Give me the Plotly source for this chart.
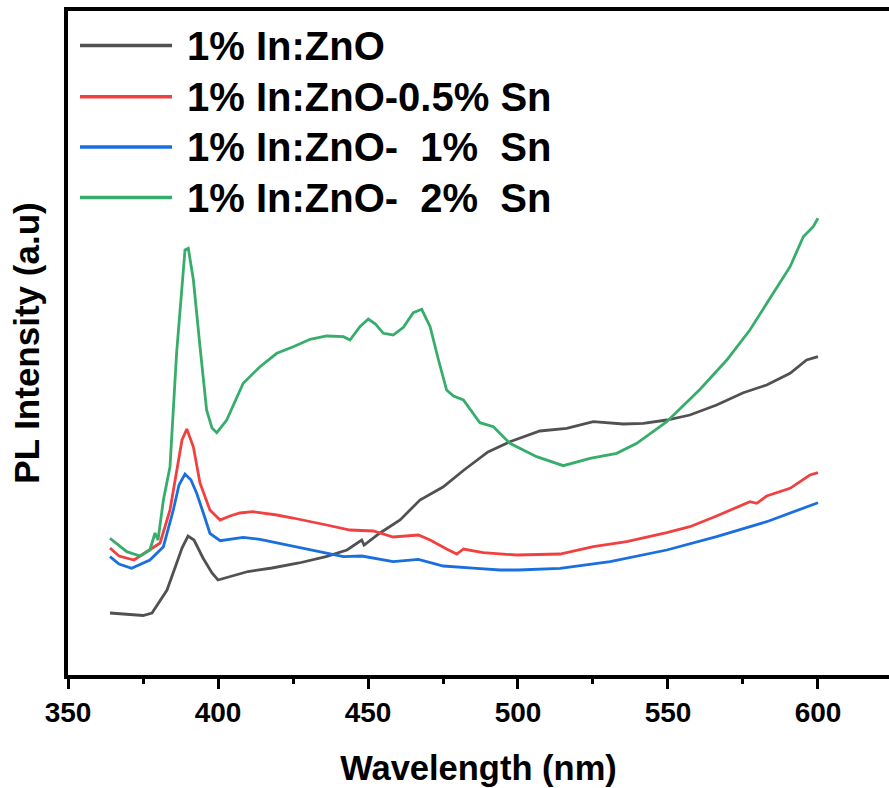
import plotly.graph_objects as go

# ---- data ----
series_names = ["1% In:ZnO", "1% In:ZnO-0.5% Sn", "1% In:ZnO-  1%  Sn", "1% In:ZnO-  2%  Sn"]
series_colors = ["#515151", "#F14040", "#1A6FDF", "#37AD6B"]

wl_in = [364, 370, 375, 378, 380, 383, 386, 388, 390, 392, 395, 398, 400, 405, 410, 418, 427, 436, 443, 447.9,
         448.7, 454, 460.7, 467.3, 475, 482, 490, 497.3, 507.3, 516.2, 525.1, 535.1, 541.8, 549.6, 557.3, 566.2,
         575.1, 582.9, 590.7, 596.2, 600]
pl_in = [62, 61, 59.5, 62, 71, 85, 110, 127, 139, 135, 117, 102, 95, 99, 103.5, 107, 112, 118.3, 125, 135,
         130, 142, 155, 175, 188, 205, 223, 233.3, 244, 246.7, 253.3, 251, 251.7, 255, 260, 270,
         282.3, 290, 301.7, 315, 318.3]

wl_sn05 = [364, 367, 372, 377, 380.7, 384, 386.2, 388, 389.6, 391.8, 394, 397.3, 400.7, 404, 407.3, 411.7, 419.6,
           425, 436.2, 444, 451.8, 458.4, 466.8, 470.7, 476.2, 479.6, 481.8, 488.4, 499.6, 514, 525.1, 536.2,
           549.6, 557.3, 566.2, 577.3, 579.6, 582.9, 590.7, 597.3, 600]
pl_sn05 = [127, 119, 115, 125, 132, 165, 205, 235, 246, 228, 192, 165, 155, 159, 162, 163.3, 160,
           157, 150, 145, 144, 138, 140, 135, 126, 121, 126, 122.3, 120, 121, 128.3, 133.3,
           142.3, 148.3, 159, 173.3, 171.7, 179, 186.7, 200, 202.3]

wl_sn1 = [364, 367, 371.2, 377.3, 381.8, 385.1, 387, 389, 391, 392.9, 395, 397.3, 400.7, 404, 408.4, 414, 425.1,
          436.2, 441.8, 447.9, 458.4, 466.8, 475.1, 486.2, 494, 500, 514, 530.7, 549.6, 566.2, 582.9, 600]
pl_sn1 = [118.3, 111, 106.7, 115, 128.3, 165, 190, 201, 195, 181.7, 163, 141.7, 134.3, 136, 137.7, 135.7, 129,
          121.7, 118.3, 119, 113.3, 115.7, 109, 106.7, 105, 105, 106.7, 113.3, 125, 138.3, 153.3, 172.3]

wl_sn2 = [364, 369.6, 374, 377.3, 379, 380, 381.8, 384, 386.2, 388, 389, 390.1, 391.8, 394, 396.2, 398, 399.6,
          402.9, 408.4, 414, 419.6, 425.1, 430.7, 436.2, 441.8, 444, 447.3, 450.1, 452.5, 455.1, 458.4, 461.8,
          465.1, 467.9, 470.7, 473.5, 476.2, 478.5, 481.8, 487.3, 491.8, 497.3, 506.2, 515.1, 524, 532.9, 539.6,
          549.6, 560.7, 569.6, 577.3, 584, 590.7, 595.1, 598.4, 600]
pl_sn2 = [136.7, 123.3, 119, 125, 142, 135, 175, 208.3, 322, 390, 425, 426.7, 395, 328.3, 265, 247, 242.3,
          255, 291.7, 308.3, 321.7, 328.3, 335.7, 339, 338.3, 335, 348.3, 356, 351, 341.7, 340, 347.7,
          362.3, 365.7, 348.3, 315, 285, 279, 275, 252.3, 248.3, 231.7, 218.3, 209.3, 216.7, 221.7, 231.7,
          253.3, 285.7, 315, 345, 376.7, 408.3, 438.3, 448.3, 456.7]

x_ticks = [350, 400, 450, 500, 550, 600]
x_tick_labels = ["350", "400", "450", "500", "550", "600"]

all_x = [wl_in, wl_sn05, wl_sn1, wl_sn2]
all_y = [pl_in, pl_sn05, pl_sn1, pl_sn2]

FONT = "Liberation Sans, Arial, sans-serif"

fig = go.Figure()
for name, color, xs, ys in zip(series_names, series_colors, all_x, all_y):
    fig.add_trace(go.Scatter(x=xs, y=ys, mode="lines", name=name,
                             line=dict(color=color, width=2.8), showlegend=False))

# manual legend (long line samples like the original)
leg_y = [0.948, 0.871, 0.795, 0.719]
shapes = []
annotations = []
for name, color, yy in zip(series_names, series_colors, leg_y):
    shapes.append(dict(type="line", xref="paper", yref="paper", x0=0.0146, x1=0.1267, y0=yy, y1=yy,
                       line=dict(color=color, width=3.5)))
    annotations.append(dict(xref="paper", yref="paper", x=0.1425, y=yy, xanchor="left", yanchor="middle",
                            text=name.replace("  ", "&nbsp;&nbsp;"), showarrow=False,
                            font=dict(family=FONT, size=40, color="black", weight="bold")))

fig.update_layout(
    width=889, height=788,
    margin=dict(l=68, r=0, t=11, b=113),
    paper_bgcolor="white", plot_bgcolor="white",
    shapes=shapes, annotations=annotations,
    font=dict(family=FONT, color="black"),
)
fig.update_xaxes(
    range=[350, 623.67], showgrid=False, zeroline=False,
    showline=True, linecolor="black", linewidth=3.5, mirror=True,
    tickmode="array", tickvals=x_ticks, ticktext=x_tick_labels,
    ticks="outside", ticklen=10, tickwidth=3, tickcolor="black",
    minor=dict(ticks="outside", ticklen=5, tickwidth=3, tickcolor="black", tick0=350, dtick=25),
    tickfont=dict(family=FONT, size=28, color="black", weight="bold"),
    title=dict(text="Wavelength (nm)", standoff=30,
               font=dict(family=FONT, size=34.5, color="black", weight="bold")),
)
fig.update_yaxes(
    range=[0, 664], showgrid=False, zeroline=False,
    showline=True, linecolor="black", linewidth=3.5, mirror=False,
    showticklabels=False, ticks="",
    title=dict(text="PL Intensity (a.u)", standoff=15,
               font=dict(family=FONT, size=35, color="black", weight="bold")),
)

fig.write_html("out.html", config={"displayModeBar": False},
               post_script="document.body.style.margin='0';document.body.style.overflow='hidden';")
